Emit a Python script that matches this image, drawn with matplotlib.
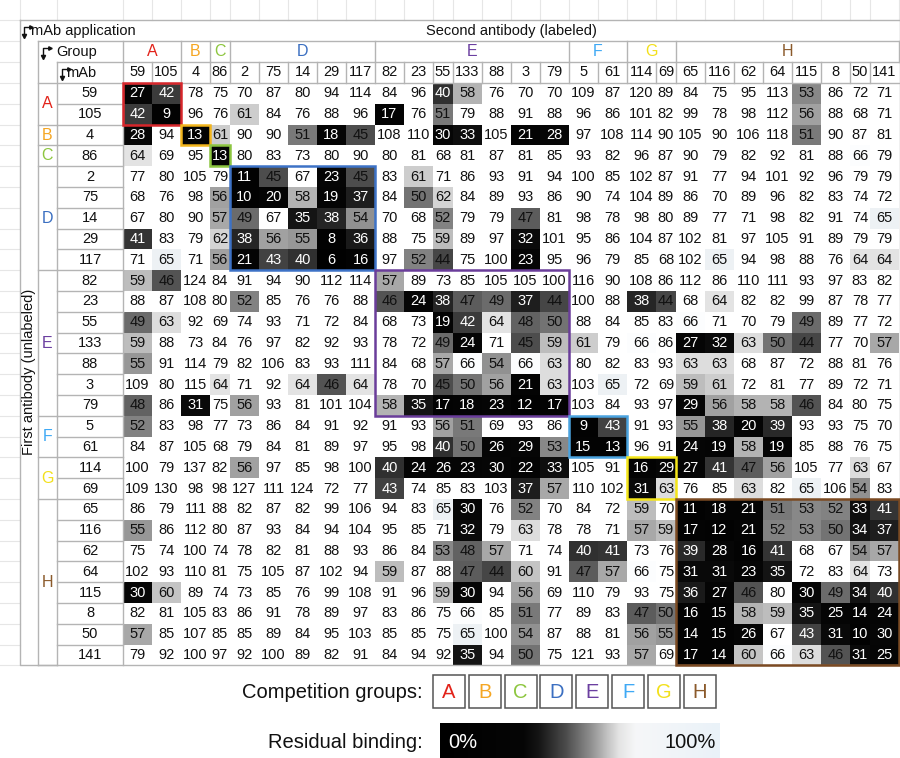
import numpy as np
import matplotlib
matplotlib.use("Agg")
import matplotlib.pyplot as plt
from matplotlib.colors import LinearSegmentedColormap
from matplotlib.patches import Rectangle

plt.rcParams["font.family"] = ["Liberation Sans", "DejaVu Sans"]

# ---- data ----
groups = ["A", "B", "C", "D", "E", "F", "G", "H"]
mabs = [59, 105, 4, 86, 2, 75, 14, 29, 117, 82, 23, 55, 133, 88, 3, 79,
        5, 61, 114, 69, 65, 116, 62, 64, 115, 8, 50, 141]
mab_group = ["A", "A", "B", "C", "D", "D", "D", "D", "D",
             "E", "E", "E", "E", "E", "E", "E", "F", "F", "G", "G",
             "H", "H", "H", "H", "H", "H", "H", "H"]

# rows = first antibody (unlabeled), cols = second antibody (labeled), % residual binding
residual = [
    [27, 42, 78, 75, 70, 87, 80, 94, 114, 84, 96, 40, 58, 76, 70, 70, 109, 87, 120, 89, 84, 75, 95, 113, 53, 86, 72, 71],
    [42, 9, 96, 76, 61, 84, 76, 88, 96, 17, 76, 51, 79, 88, 91, 88, 96, 86, 101, 82, 99, 78, 98, 112, 56, 88, 68, 71],
    [28, 94, 13, 61, 90, 90, 51, 18, 45, 108, 110, 30, 33, 105, 21, 28, 97, 108, 114, 90, 105, 90, 106, 118, 51, 90, 87, 81],
    [64, 69, 95, 13, 80, 83, 73, 80, 90, 80, 81, 68, 81, 87, 81, 85, 93, 82, 96, 87, 90, 79, 82, 92, 81, 88, 66, 79],
    [77, 80, 105, 79, 11, 45, 67, 23, 45, 83, 61, 71, 86, 93, 91, 94, 100, 85, 102, 87, 91, 77, 94, 101, 92, 96, 79, 79],
    [68, 76, 98, 56, 10, 20, 58, 19, 37, 84, 50, 62, 84, 89, 93, 86, 90, 74, 104, 89, 86, 70, 89, 96, 82, 83, 74, 72],
    [67, 80, 90, 57, 49, 67, 35, 38, 54, 70, 68, 52, 79, 79, 47, 81, 98, 78, 98, 80, 89, 77, 71, 98, 82, 91, 74, 65],
    [41, 83, 79, 62, 38, 56, 55, 8, 36, 88, 75, 59, 89, 97, 32, 101, 95, 86, 104, 87, 102, 81, 97, 105, 91, 89, 79, 79],
    [71, 65, 71, 56, 21, 43, 40, 6, 16, 97, 52, 44, 75, 100, 23, 95, 96, 79, 85, 68, 102, 65, 94, 98, 88, 76, 64, 64],
    [59, 46, 124, 84, 91, 94, 90, 112, 114, 57, 89, 73, 85, 105, 105, 100, 116, 90, 108, 86, 112, 86, 110, 111, 93, 97, 83, 82],
    [88, 87, 108, 80, 52, 85, 76, 76, 88, 46, 24, 38, 47, 49, 37, 44, 100, 88, 38, 44, 68, 64, 82, 82, 99, 87, 78, 77],
    [49, 63, 92, 69, 74, 93, 71, 72, 84, 68, 73, 19, 42, 64, 48, 50, 88, 84, 85, 83, 66, 71, 70, 79, 49, 89, 77, 72],
    [59, 88, 73, 84, 76, 97, 82, 92, 93, 78, 72, 49, 24, 71, 45, 59, 61, 79, 66, 86, 27, 32, 63, 50, 44, 77, 70, 57],
    [55, 91, 114, 79, 82, 106, 83, 93, 111, 84, 68, 57, 66, 54, 66, 63, 80, 82, 83, 93, 63, 63, 68, 87, 72, 88, 81, 76],
    [109, 80, 115, 64, 71, 92, 64, 46, 64, 78, 70, 45, 50, 56, 21, 63, 103, 65, 72, 69, 59, 61, 72, 81, 77, 89, 72, 71],
    [48, 86, 31, 75, 56, 93, 81, 101, 104, 58, 35, 17, 18, 23, 12, 17, 103, 84, 93, 97, 29, 56, 58, 58, 46, 84, 80, 75],
    [52, 83, 98, 77, 73, 86, 84, 91, 92, 91, 93, 56, 51, 69, 93, 86, 9, 43, 91, 93, 55, 38, 20, 39, 93, 93, 75, 70],
    [84, 87, 105, 68, 79, 84, 81, 89, 97, 95, 98, 40, 50, 26, 29, 53, 15, 13, 96, 91, 24, 19, 58, 19, 85, 88, 76, 75],
    [100, 79, 137, 82, 56, 97, 85, 98, 100, 40, 24, 26, 23, 30, 22, 33, 105, 91, 16, 29, 27, 41, 47, 56, 105, 77, 63, 67],
    [109, 130, 98, 98, 127, 111, 124, 72, 77, 43, 74, 85, 83, 103, 37, 57, 110, 102, 31, 63, 76, 85, 63, 82, 65, 106, 54, 83],
    [86, 79, 111, 88, 82, 87, 82, 99, 106, 94, 83, 65, 30, 76, 52, 70, 84, 72, 59, 70, 11, 18, 21, 51, 53, 52, 33, 41],
    [55, 86, 112, 80, 87, 93, 84, 94, 104, 95, 85, 71, 32, 79, 63, 78, 78, 71, 57, 59, 17, 12, 21, 52, 53, 50, 34, 37],
    [75, 74, 100, 74, 78, 82, 81, 88, 93, 86, 84, 53, 48, 57, 71, 74, 40, 41, 73, 76, 39, 28, 16, 41, 68, 67, 54, 57],
    [102, 93, 110, 81, 75, 105, 87, 102, 94, 59, 87, 88, 47, 44, 60, 91, 47, 57, 66, 75, 31, 31, 23, 35, 72, 83, 64, 73],
    [30, 60, 89, 74, 73, 85, 76, 99, 108, 91, 96, 59, 30, 94, 56, 69, 110, 79, 93, 75, 36, 27, 46, 80, 30, 49, 34, 40],
    [82, 81, 105, 83, 86, 91, 78, 89, 97, 83, 86, 75, 66, 85, 51, 77, 89, 83, 47, 50, 16, 15, 58, 59, 35, 25, 14, 24],
    [57, 85, 107, 85, 85, 89, 84, 95, 103, 85, 85, 75, 65, 100, 54, 87, 88, 81, 56, 55, 14, 15, 26, 67, 43, 31, 10, 30],
    [79, 92, 100, 97, 92, 100, 89, 82, 91, 84, 94, 92, 35, 94, 50, 75, 121, 93, 57, 69, 17, 14, 60, 66, 63, 46, 31, 25],
]

# ---- styles ----
text_colors = {"A": "#e2231a", "B": "#f5a623", "C": "#8dc63f", "D": "#3b6fc1",
               "E": "#6b3fa0", "F": "#3fa9f5", "G": "#f2e01b", "H": "#8b5a2b"}
box_colors = {"A": "#d7262b", "B": "#f2b51c", "C": "#8cc540", "D": "#3d72c6",
              "E": "#6a3d9a", "F": "#4aa3df", "G": "#f5e61a", "H": "#7b4a22"}

stops = [(0.00, "#000000"), (0.30, "#060606"), (0.35, "#141414"), (0.40, "#303030"),
         (0.45, "#4c4c4c"), (0.50, "#727272"), (0.55, "#989898"), (0.60, "#c4c4c4"),
         (0.64, "#e4e4e4"), (0.652, "#eef2f6"), (0.66, "#ffffff"), (1.00, "#ffffff")]
cell_cmap = LinearSegmentedColormap.from_list("resid", stops)
bar_cmap = LinearSegmentedColormap.from_list(
    "resid_bar", stops[:-3] + [(0.70, "#f6f7f8"), (1.00, "#eaf2f9")])

LINE = "#b4b4b4"
BG_GRID = "#e6e6e6"

# ---- layout (pixels) ----
X_DATA, Y_DATA, ROW_H = 123, 83, 20.8
narrow = {86, 55, 69, 50}
col_w = [20 if m in narrow else 29 for m in mabs]
xe = X_DATA + np.concatenate([[0], np.cumsum(col_w)])
ye = Y_DATA + ROW_H * np.arange(len(mabs) + 1)
xc = (xe[:-1] + xe[1:]) / 2
yc = (ye[:-1] + ye[1:]) / 2
spans = {g: (mab_group.index(g), len(mab_group) - mab_group[::-1].index(g)) for g in groups}

fig = plt.figure(figsize=(9, 7.58), dpi=100)
ax = fig.add_axes([0, 0, 1, 1])
ax.set_xlim(0, 900)
ax.set_ylim(758, 0)
ax.axis("off")

# spreadsheet grid showing around the table
for x in np.concatenate([[20, 57], xe]):
    ax.plot([x, x], [0, 20], color=BG_GRID, lw=0.8, zorder=0)
for y in np.concatenate([[20, 41, 62], ye]):
    ax.plot([0, 20], [y, y], color=BG_GRID, lw=0.8, zorder=0)

# heatmap cells
vals = np.array(residual, dtype=float)
ax.pcolormesh(xe, ye, vals, cmap=cell_cmap, vmin=0, vmax=100, shading="flat",
              antialiased=False, zorder=1)
for i in range(len(mabs)):
    for j in range(len(mabs)):
        v = residual[i][j]
        ax.text(xc[j], yc[i], str(v), ha="center", va="center", fontsize=10.5,
                color="white" if v <= 43 else "#111111", zorder=3)

# table lines
right = 900
ax.plot([20, right, right, 20, 20], [20, 20, 665.4, 665.4, 20], color=LINE, lw=1, zorder=2)
ax.plot([38, right], [41, 41], color=LINE, lw=1, zorder=2)
ax.plot([57, right], [62, 62], color=LINE, lw=1, zorder=2)
ax.plot([38, right], [Y_DATA, Y_DATA], color=LINE, lw=1, zorder=2)
ax.plot([38, 38], [41, 665.4], color=LINE, lw=1, zorder=2)
ax.plot([57, 57], [62, 665.4], color=LINE, lw=1, zorder=2)
ax.plot([X_DATA, X_DATA], [41, 665.4], color=LINE, lw=1, zorder=2)
for x in xe[1:-1]:
    ax.plot([x, x], [62, Y_DATA], color=LINE, lw=1, zorder=2)
for y in ye[1:-1]:
    ax.plot([57, X_DATA], [y, y], color=LINE, lw=1, zorder=2)
for g in groups:
    a, b = spans[g]
    ax.plot([xe[b], xe[b]], [41, 62], color=LINE, lw=1, zorder=2)
    ax.plot([38, 57], [ye[b], ye[b]], color=LINE, lw=1, zorder=2)
    # header and row group letters
    ax.text((xe[a] + xe[b]) / 2, 52, g, ha="center", va="center", fontsize=11.5,
            color=text_colors[g])
    ax.text(47.5, (ye[a] + ye[b]) / 2, g, ha="center", va="center", fontsize=11.5,
            color=text_colors[g])
    # diagonal competition box
    ax.add_patch(Rectangle((xe[a], ye[a]), xe[b] - xe[a], ye[b] - ye[a], fill=False,
                           edgecolor=box_colors[g], lw=1.8, zorder=4))

for j, m in enumerate(mabs):
    ax.text(xc[j], 72.5, str(m), ha="center", va="center", fontsize=10.5, color="#111")
    ax.text(90, yc[j], str(m), ha="center", va="center", fontsize=10.5, color="#111")


def corner(x, y):
    ax.plot([x, x, x + 6], [y + 5, y - 4, y - 4], color="#111", lw=1, zorder=5)
    ax.plot(x, y + 5, marker="v", ms=3, color="#111", zorder=5)
    ax.plot(x + 6.5, y - 4, marker=">", ms=2.5, color="#111", zorder=5)


corner(24, 31)
ax.text(31, 31, "mAb application", ha="left", va="center", fontsize=10.5, color="#111")
corner(43, 52)
ax.text(56, 52, "Group", ha="left", va="center", fontsize=10.5, color="#111")
corner(62, 73)
ax.text(66, 73, "mAb", ha="left", va="center", fontsize=10.5, color="#111")
ax.text(511, 31, "Second antibody (labeled)", ha="center", va="center", fontsize=10.5,
        color="#111")
ax.text(29, 372, "First antibody (unlabeled)", ha="center", va="center",
        rotation=90, fontsize=10.5, color="#111")

# legend: competition groups
ax.text(423, 692, "Competition groups:", ha="right", va="center", fontsize=14.5, color="#111")
for k, g in enumerate(groups):
    x0 = 433 + k * 35.8
    ax.add_patch(Rectangle((x0, 675), 32, 33, fill=False, edgecolor="#555", lw=1.1))
    ax.text(x0 + 16, 692, g, ha="center", va="center", fontsize=14.5, color=text_colors[g])

# legend: residual binding gradient
ax.text(423, 742, "Residual binding:", ha="right", va="center", fontsize=14.5, color="#111")
grad = np.linspace(0, 100, 256)[None, :]
ax.imshow(grad, cmap=bar_cmap, vmin=0, vmax=100, extent=[440, 720, 758, 723],
          aspect="auto", zorder=1)
ax.text(448, 742, "0%", ha="left", va="center", fontsize=14.5, color="white", zorder=3)
ax.text(716, 742, "100%", ha="right", va="center", fontsize=14.5, color="#111", zorder=3)

ax.set_xlim(0, 900)
ax.set_ylim(758, 0)
fig.savefig("out.png", dpi=100)
